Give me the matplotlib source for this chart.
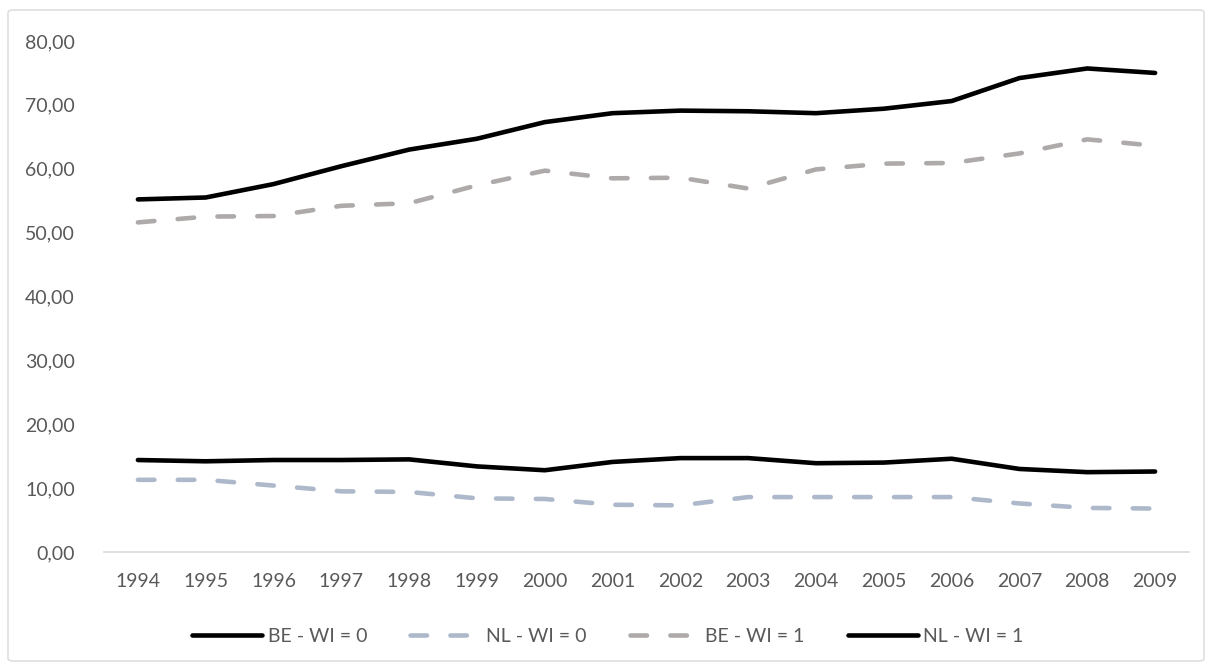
import matplotlib.pyplot as plt
from matplotlib.patches import FancyBboxPatch

# Daten
years = ['1994', '1995', '1996', '1997', '1998', '1999', '2000', '2001',
         '2002', '2003', '2004', '2005', '2006', '2007', '2008', '2009']
be_wi0 = [14.4, 14.2, 14.4, 14.4, 14.5, 13.4, 12.8, 14.1,
          14.7, 14.7, 13.9, 14.0, 14.6, 13.0, 12.5, 12.6]
nl_wi0 = [11.3, 11.3, 10.4, 9.5, 9.4, 8.4, 8.3, 7.4,
          7.3, 8.6, 8.6, 8.6, 8.6, 7.6, 6.9, 6.8]
be_wi1 = [51.6, 52.5, 52.6, 54.2, 54.6, 57.4, 59.7, 58.5,
          58.6, 56.9, 59.9, 60.8, 60.9, 62.4, 64.6, 63.6]
nl_wi1 = [55.2, 55.5, 57.6, 60.4, 63.0, 64.7, 67.3, 68.7,
          69.1, 69.0, 68.7, 69.4, 70.6, 74.2, 75.7, 75.0]
labels = ['BE - WI = 0', 'NL - WI = 0', 'BE - WI = 1', 'NL - WI = 1']
yticks = [0, 10, 20, 30, 40, 50, 60, 70, 80]

plt.rcParams['font.family'] = ['Lato', 'DejaVu Sans']
txtcol = '#595959'

fig = plt.figure(figsize=(12.14, 6.71), dpi=100)
ax = fig.add_axes([104 / 1214, 1 - 552 / 671, (1189 - 104) / 1214, (552 - 41) / 671])

x = range(len(years))
lw = 3.3
dash = (3.6, 5.1)
ax.plot(x, be_wi0, color='black', lw=lw, solid_capstyle='round', label=labels[0])
ax.plot(x, nl_wi0, color='#ADB9CA', lw=lw, dashes=dash, dash_capstyle='round', label=labels[1])
ax.plot(x, be_wi1, color='#AEAAAA', lw=lw, dashes=dash, dash_capstyle='round', label=labels[2])
ax.plot(x, nl_wi1, color='black', lw=lw, solid_capstyle='round', label=labels[3])

ax.set_xlim(-0.5, len(years) - 0.5)
ax.set_ylim(0, 80)
ax.set_xticks(list(x))
ax.set_xticklabels(years)
ax.set_yticks(yticks)
ax.set_yticklabels(['{:.2f}'.format(v).replace('.', ',') for v in yticks])
ax.tick_params(length=0, labelsize=14, colors=txtcol)
ax.tick_params(axis='x', pad=15)
ax.tick_params(axis='y', pad=21)

for s in ['top', 'right', 'left']:
    ax.spines[s].set_visible(False)
ax.spines['bottom'].set_color('#D9D9D9')
ax.spines['bottom'].set_linewidth(1.2)

# Legende unten, mittig in der Figur
leg = fig.legend(loc='center', bbox_to_anchor=(608 / 1214, 1 - 636 / 671),
                 ncol=4, frameon=False, fontsize=14, handlelength=3.6, handletextpad=0.3,
                 columnspacing=2.2)
for t in leg.get_texts():
    t.set_color(txtcol)

# Rahmen um das ganze Diagramm
fig.patches.append(FancyBboxPatch((8 / 1214, 10 / 671), 1196 / 1214, 651 / 671,
                                  boxstyle='round,pad=0,rounding_size=0.004',
                                  transform=fig.transFigure, fill=False,
                                  edgecolor='#D9D9D9', lw=1))

fig.savefig('out.png', dpi=100)
